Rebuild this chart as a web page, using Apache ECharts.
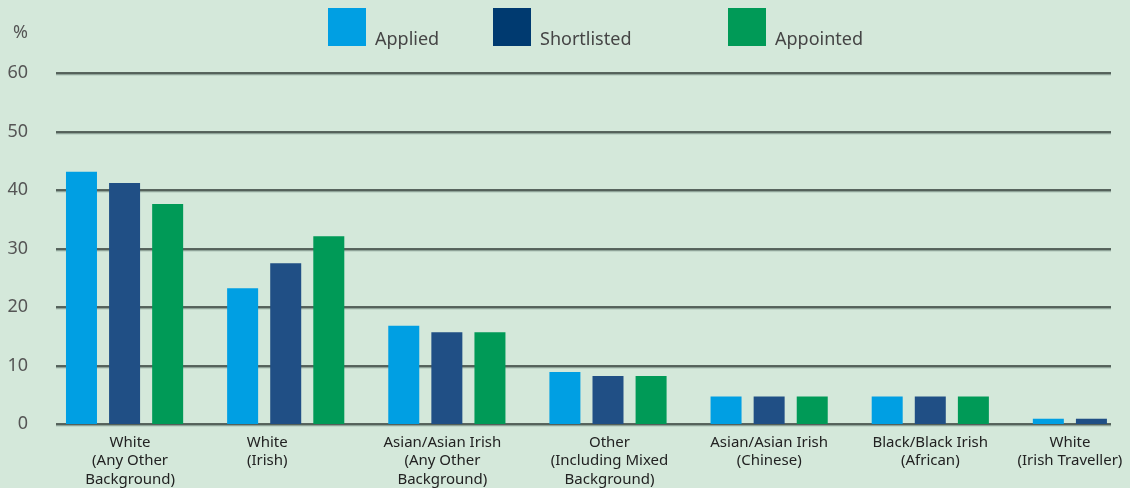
<!DOCTYPE html>
<html>
<head>
<meta charset="utf-8">
<script src="https://cdn.jsdelivr.net/npm/echarts@6/dist/echarts.min.js"></script>
<style>
  html, body { margin: 0; padding: 0; background: #d4e8da; }
  #chart { width: 1130px; height: 488px; }
</style>
</head>
<body>
<div id="chart"></div>
<script>
const categories = [
  'White\n(Any Other\nBackground)',
  'White\n(Irish)',
  'Asian/Asian Irish\n(Any Other\nBackground)',
  'Other\n(Including Mixed\nBackground)',
  'Asian/Asian Irish\n(Chinese)',
  'Black/Black Irish\n(African)',
  'White\n(Irish Traveller)'
]
const applied = [43.1, 23.2, 16.8, 8.9, 4.7, 4.7, 0.9]
const shortlisted = [41.2, 27.5, 15.7, 8.2, 4.7, 4.7, 0.9]
const appointed = [37.6, 32.1, 15.7, 8.2, 4.7, 4.7, null]
const yTicks = [0, 10, 20, 30, 40, 50, 60]

const font = '"Noto Sans", "Open Sans", sans-serif'
const colors = { applied: '#009fe3', shortlisted: '#204f85', appointed: '#009a57' }

// labels in the original are not quite centred under the bars
const labelPadding = [
  [0, 0, 0, 11],
  [0, 37, 0, 0],
  [0, 9, 0, 0],
  [0, 0, 0, 3],
  [0, 0, 0, 0],
  [0, 0, 0, 0],
  [0, 43, 0, 0]
]

const chart = echarts.init(document.getElementById('chart'))

// one legend per item, the gaps between them are uneven in the original
function legendAt(name, left, color) {
  return {
    show: true,
    left: left,
    top: 1,
    padding: 0,
    itemWidth: 38,
    itemHeight: 38,
    icon: 'rect',
    data: [{ name: name, itemStyle: { color: color } }],
    formatter: function(n) {
      return '\n' + n
    },
    textStyle: {
      color: '#454545',
      fontSize: 18,
      lineHeight: 26,
      fontFamily: font,
      padding: [0, 0, 0, 4]
    },
    selectedMode: false
  }
}

const option = {
  backgroundColor: '#d4e8da',
  animation: false,
  title: {
    text: '%',
    left: 8,
    top: 19,
    textStyle: { color: '#555', fontSize: 18, fontWeight: 'normal', fontFamily: font }
  },
  legend: [
    legendAt('Applied', 328, colors.applied),
    legendAt('Shortlisted', 493, '#003a70'),
    legendAt('Appointed', 728, colors.appointed)
  ],
  grid: [
    { left: 44, top: 73, width: 1128, bottom: 64, outerBoundsMode: 'none' },
    { left: 56, top: 73, right: 19, bottom: 64, outerBoundsMode: 'none' }
  ],
  xAxis: [
    {
      gridIndex: 0,
      type: 'category',
      data: categories.map((c, i) => ({ value: c, textStyle: { padding: labelPadding[i] } })),
      axisLine: { show: false },
      axisTick: { show: false },
      axisLabel: {
        interval: 0,
        margin: 9,
        color: '#222',
        fontSize: 15,
        lineHeight: 18.5,
        fontFamily: font
      }
    },
    {
      gridIndex: 1,
      type: 'category',
      data: categories,
      show: false
    }
  ],
  yAxis: [
    {
      gridIndex: 0,
      type: 'value',
      min: 0,
      max: 60,
      interval: 10,
      show: false,
      splitLine: { show: false }
    },
    {
      gridIndex: 1,
      type: 'value',
      min: yTicks[0],
      max: yTicks[yTicks.length - 1],
      interval: 10,
      axisLine: { show: false },
      axisTick: { show: false },
      axisLabel: {
        margin: 28,
        color: '#555',
        fontSize: 18,
        fontFamily: font
      },
      splitLine: {
        show: true,
        lineStyle: {
          color: '#2f3a34',
          width: 1.5,
          shadowColor: 'rgba(60, 80, 70, 0.45)',
          shadowOffsetY: 1.5,
          shadowBlur: 0
        }
      }
    }
  ],
  series: [
    {
      name: 'Applied',
      type: 'bar',
      xAxisIndex: 0,
      yAxisIndex: 0,
      barWidth: 31,
      barGap: '39%',
      itemStyle: { color: colors.applied },
      data: applied,
      z: 3
    },
    {
      name: 'Shortlisted',
      type: 'bar',
      xAxisIndex: 0,
      yAxisIndex: 0,
      barWidth: 31,
      barGap: '39%',
      itemStyle: { color: colors.shortlisted },
      data: shortlisted,
      z: 3
    },
    {
      name: 'Appointed',
      type: 'bar',
      xAxisIndex: 0,
      yAxisIndex: 0,
      barWidth: 31,
      barGap: '39%',
      itemStyle: { color: colors.appointed },
      data: appointed,
      z: 3
    }
  ]
}

chart.setOption(option)
</script>
</body>
</html>
